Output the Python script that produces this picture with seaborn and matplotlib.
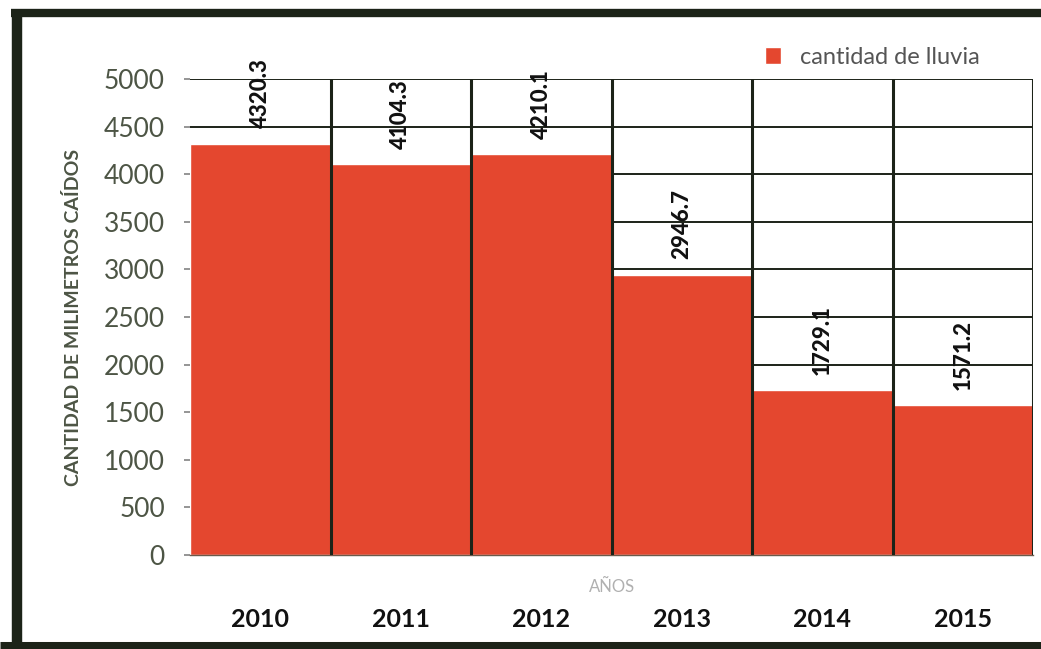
import numpy as np
import matplotlib
matplotlib.use("Agg")
import matplotlib.pyplot as plt
import seaborn as sns

# Data
years = ["2010", "2011", "2012", "2013", "2014", "2015"]
rainfall_mm = [4320.3, 4104.3, 4210.1, 2946.7, 1729.1, 1571.2]
y_ticks = [0, 500, 1000, 1500, 2000, 2500, 3000, 3500, 4000, 4500, 5000]

sns.set_theme(style="white")
plt.rcParams['font.family'] = ['Lato', 'DejaVu Sans']

BAR_COLOR = "#e4472f"
GRID_DARK = "#1c2318"
TEXT_GRAY = "#4d5545"

fig = plt.figure(figsize=(10.41, 6.49), dpi=100)
ax = fig.add_axes([0.1825, 0.1448, 0.8100, 0.7334])

sns.barplot(x=years, y=rainfall_mm, color=BAR_COLOR, saturation=1,
            width=1.0, label="cantidad de lluvia", ax=ax, zorder=2)

ax.set_ylim(0, 5000)
ax.set_xlim(-0.5, len(years) - 0.5)
ax.set_yticks(y_ticks)

# horizontal grid behind bars
ax.set_axisbelow(True)
ax.yaxis.grid(True, color=GRID_DARK, linewidth=1.4)
ax.xaxis.grid(False)

# vertical separators between years (on top of bars)
for b in np.arange(0.5, len(years), 1.0):
    ax.axvline(b, ymin=0, ymax=1, color=GRID_DARK, linewidth=2.2, zorder=3)

for s in ["left", "top", "right"]:
    ax.spines[s].set_visible(False)
ax.spines["bottom"].set_color("#6b5a4a")
ax.spines["bottom"].set_linewidth(1.0)

ax.tick_params(axis="y", length=4, color="#888888", labelsize=19,
               labelcolor=TEXT_GRAY, pad=14, left=True)
ax.tick_params(axis="x", length=0, labelsize=18, pad=38)
for lbl in ax.get_xticklabels():
    lbl.set_fontweight("bold")
    lbl.set_color("#111111")

# value labels
ax.bar_label(ax.containers[0], labels=[f"{v:.1f}" for v in rainfall_mm],
             rotation=90, padding=11, fontsize=16, fontweight="black",
             color="#111111")

ax.set_ylabel("CANTIDAD DE MILIMETROS CAÍDOS", fontsize=14, fontweight="bold",
              color=TEXT_GRAY, labelpad=16)
ax.set_xlabel("AÑOS", fontsize=12, color="#b0b0b0")
ax.xaxis.set_label_coords(0.5, -0.05)

leg = ax.legend(loc="center", bbox_to_anchor=(0.838, 0.912),
                bbox_transform=fig.transFigure, frameon=False,
                fontsize=17, handlelength=0.7, handleheight=0.7,
                handletextpad=0.8)
for t in leg.get_texts():
    t.set_color("#555555")

# scanned frame border
frame_kw = dict(color=GRID_DARK, transform=fig.transFigure, solid_capstyle="butt")
fig.add_artist(plt.Line2D([0.0163, 0.0163], [0.0, 0.986], linewidth=7.5, **frame_kw))
fig.add_artist(plt.Line2D([0.011, 1.0], [0.980, 0.980], linewidth=6, **frame_kw))
fig.add_artist(plt.Line2D([0.0, 1.0], [0.005, 0.005], linewidth=6.5, **frame_kw))

fig.savefig("out.png", dpi=100)
